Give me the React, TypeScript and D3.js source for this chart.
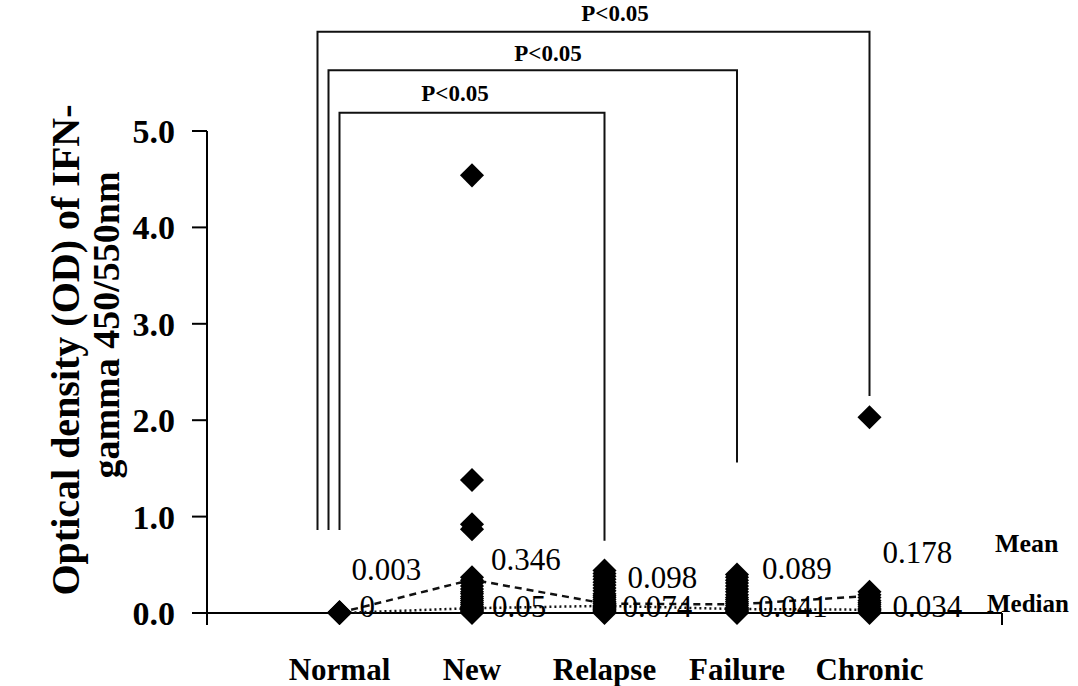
import React from 'react';
import * as d3 from 'd3';

// groups on the x axis
const categories = ['Normal', 'New', 'Relapse', 'Failure', 'Chronic'];

// individual OD readings per group
const normalValues = [0, 0, 0, 0.005, 0.01];
const newValues = [4.54, 1.38, 0.92, 0.87, 0.37, 0.34, 0.31, 0.28, 0.25, 0.22, 0.2, 0.17, 0.15, 0.13, 0.11, 0.09, 0.07, 0.06, 0.05, 0.04, 0.03, 0.02, 0.01, 0];
const relapseValues = [0.44, 0.41, 0.38, 0.35, 0.32, 0.29, 0.26, 0.23, 0.2, 0.18, 0.16, 0.14, 0.12, 0.1, 0.08, 0.07, 0.06, 0.05, 0.04, 0.03, 0.02, 0.01, 0];
const failureValues = [0.4, 0.37, 0.34, 0.31, 0.28, 0.25, 0.22, 0.19, 0.16, 0.14, 0.12, 0.1, 0.08, 0.06, 0.05, 0.04, 0.03, 0.02, 0.01, 0];
const chronicValues = [2.03, 0.22, 0.19, 0.16, 0.13, 0.11, 0.09, 0.07, 0.05, 0.04, 0.03, 0.02, 0];

const meanValues = [0.003, 0.346, 0.098, 0.089, 0.178];
const medianValues = [0, 0.05, 0.074, 0.041, 0.034];
const meanLabels = ['0.003', '0.346', '0.098', '0.089', '0.178'];
const medianLabels = ['0', '0.05', '0.074', '0.041', '0.034'];

const yTicks = [0, 1, 2, 3, 4, 5];
const yTickLabels = ['0.0', '1.0', '2.0', '3.0', '4.0', '5.0'];

// significance brackets: Normal vs the group, bar height, foot height on the right
const bracketTargets = ['Relapse', 'Failure', 'Chronic'];
const bracketTops = [5.19, 5.63, 6.03];
const bracketRightFeet = [0.75, 1.56, 2.25];
const bracketLeftFoot = 0.86;
const bracketLabel = 'P<0.05';

const groups = [normalValues, newValues, relapseValues, failureValues, chronicValues];

const FONT = '"Liberation Serif", "Times New Roman", serif';

export default function App() {
  const width = 1078;
  const height = 686;

  const x = d3.scaleLinear().domain([0, 6]).range([207, 1002]);
  const y = d3.scaleLinear().domain([0, 5]).range([613, 131]);
  const xOf = (c) => x(categories.indexOf(c) + 1);

  const diamond = d3.symbol().type(d3.symbolSquare).size(290)();

  const line = d3.line()
    .x((d, i) => x(i + 1))
    .y(d => y(d));

  // label nudges (px) for the mean labels, Excel style
  const meanNudge = [[12, -33], [19, -10], [23, -16], [25, -25], [13, -33]];
  const medianNudge = [20, 20, 18, 21, 23];
  const leftOffsets = [0, -11, -22];
  const labelX = [455, 548, 615];
  const labelY = [-12, -9, -11];

  return (
    <svg width={width} height={height} style={{ position: 'absolute', left: 0, top: 0, background: '#fff' }}
      fontFamily={FONT}>
      {/* brackets */}
      {bracketTargets.map((t, i) => {
        const lx = x(1) + leftOffsets[i];
        const rx = xOf(t);
        return (
          <g key={t}>
            <path d={`M${lx},${y(bracketLeftFoot)}V${y(bracketTops[i])}H${rx}V${y(bracketRightFeet[i])}`}
              fill="none" stroke="#111" strokeWidth={2} />
            <text x={labelX[i]} y={y(bracketTops[i]) + labelY[i]} textAnchor="middle"
              fontSize={23} fontWeight="bold">{bracketLabel}</text>
          </g>
        );
      })}

      {/* axes */}
      <line x1={x(0)} x2={x(0)} y1={y(5)} y2={y(0) + 12} stroke="#000" strokeWidth={2} />
      <line x1={x(0)} x2={x(6)} y1={y(0)} y2={y(0)} stroke="#000" strokeWidth={2} />
      <line x1={x(6)} x2={x(6)} y1={y(0)} y2={y(0) + 12} stroke="#000" strokeWidth={2} />
      {yTicks.map((t, i) => (
        <g key={t}>
          <line x1={x(0) - 15} x2={x(0)} y1={y(t)} y2={y(t)} stroke="#000" strokeWidth={2} />
          <text x={175} y={y(t)} dy="0.35em" textAnchor="end" fontSize={34} fontWeight="bold">{yTickLabels[i]}</text>
        </g>
      ))}
      {categories.map(c => (
        <text key={c} x={xOf(c)} y={680} textAnchor="middle" fontSize={31} fontWeight="bold">{c}</text>
      ))}

      {/* y title */}
      <text transform="translate(79,350) rotate(-90)" textAnchor="middle" fontSize={40} fontWeight="bold">
        Optical density (OD) of IFN-
      </text>
      <text transform="translate(119,325) rotate(-90)" textAnchor="middle" fontSize={38} fontWeight="bold">
        gamma 450/550nm
      </text>

      {/* mean and median lines */}
      <path d={line(meanValues)} fill="none" stroke="#111" strokeWidth={2.5} strokeDasharray="7,5" />
      <path d={line(medianValues)} fill="none" stroke="#111" strokeWidth={2.5} strokeDasharray="2,3" />

      {/* points */}
      {groups.map((vals, gi) => vals.map((v, j) => (
        <path key={gi + '-' + j} d={diamond}
          transform={`translate(${x(gi + 1)},${y(v)}) rotate(45)`} fill="#000" />
      )))}

      {/* value labels */}
      {meanLabels.map((l, i) => (
        <text key={'m' + i} x={x(i + 1) + meanNudge[i][0]} y={y(meanValues[i]) + meanNudge[i][1]}
          fontSize={31}>{l}</text>
      ))}
      {medianLabels.map((l, i) => (
        <text key={'md' + i} x={x(i + 1) + medianNudge[i]} y={617} fontSize={31}>{l}</text>
      ))}
      <text x={995} y={552} fontSize={26} fontWeight="bold">Mean</text>
      <text x={987} y={612} fontSize={25} fontWeight="bold">Median</text>
    </svg>
  );
}
